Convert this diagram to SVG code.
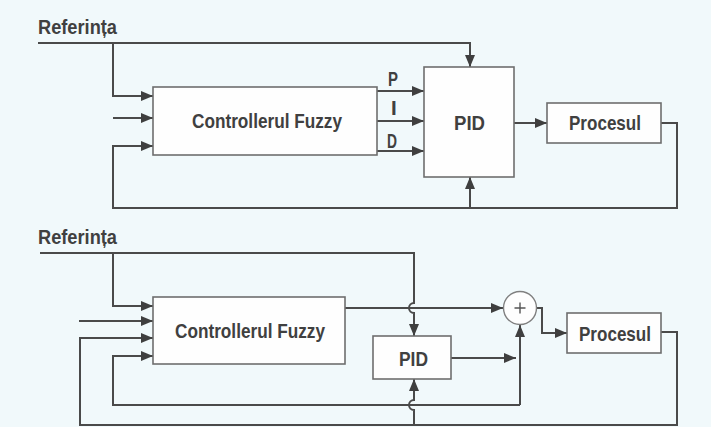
<svg xmlns="http://www.w3.org/2000/svg" width="711" height="427" viewBox="0 0 711 427">
<style>
.bg{fill:#f1f9fb}
.box{fill:#fefefe;stroke:#6e6e6e;stroke-width:1.6}
.ln{fill:none;stroke:#4a4a4a;stroke-width:2}
.t{font-family:"Liberation Sans",Arial,sans-serif;font-weight:bold;fill:#404040;font-size:20.5px}
.sum{fill:#fefefe;stroke:#808080;stroke-width:1.4}
</style>
<defs>
<marker id="ah" markerUnits="userSpaceOnUse" markerWidth="13" markerHeight="11" refX="12" refY="5" orient="auto">
<path d="M0,0 L12,5 L0,10 z" fill="#3f3f3f"/>
</marker>
</defs>
<rect class="bg" x="0" y="0" width="711" height="427"/>

<text class="t" x="38" y="34" textLength="79" lengthAdjust="spacingAndGlyphs">Referința</text>

<g id="connectors">
<path class="ln" d="M38,43 H470 V67" marker-end="url(#ah)"/>
<path class="ln" d="M113,43 V96 H153" marker-end="url(#ah)"/>
<path class="ln" d="M113,118 H153" marker-end="url(#ah)"/>
<path class="ln" d="M661,123 H677 V208 H113 V146 H153" marker-end="url(#ah)"/>
<path class="ln" d="M470,208 V177" marker-end="url(#ah)"/>
<path class="ln" d="M377,91 H424" marker-end="url(#ah)"/>
<path class="ln" d="M377,121 H424" marker-end="url(#ah)"/>
<path class="ln" d="M377,151 H424" marker-end="url(#ah)"/>
<path class="ln" d="M514,123 H547" marker-end="url(#ah)"/>
<path class="ln" d="M40,253 H414 V303 A5,5 0 0 0 414,313 V336" marker-end="url(#ah)"/>
<path class="ln" d="M113,253 V306 H153" marker-end="url(#ah)"/>
<path class="ln" d="M79,321 H153" marker-end="url(#ah)"/>
<path class="ln" d="M661,332 H677 V425 H80 V338 H153" marker-end="url(#ah)"/>
<path class="ln" d="M414,425 V410 A5,5 0 0 1 414,400 V379" marker-end="url(#ah)"/>
<path class="ln" d="M520,405 H113 V356 H153" marker-end="url(#ah)"/>
<path class="ln" d="M520,405 V325" marker-end="url(#ah)"/>
<path class="ln" d="M345,308 H503" marker-end="url(#ah)"/>
<path class="ln" d="M451,358 H516" marker-end="url(#ah)"/>
<path class="ln" d="M536,308 H542 V333 H567" marker-end="url(#ah)"/>
</g>

<text class="t" x="388" y="86" font-size="19" textLength="10" lengthAdjust="spacingAndGlyphs">P</text>
<text class="t" x="391" y="115" font-size="19">I</text>
<text class="t" x="387" y="148" font-size="19" textLength="10" lengthAdjust="spacingAndGlyphs">D</text>

<g id="fuzzy1">
<rect class="box" x="153" y="87" width="224" height="68"/>
<text class="t" x="192" y="128" textLength="150" lengthAdjust="spacingAndGlyphs">Controllerul Fuzzy</text>
</g>
<g id="pid1">
<rect class="box" x="424" y="67" width="90" height="110"/>
<text class="t" x="454" y="130" textLength="31" lengthAdjust="spacingAndGlyphs">PID</text>
</g>
<g id="proc1">
<rect class="box" x="547" y="103" width="114" height="40"/>
<text class="t" x="569" y="130" textLength="72" lengthAdjust="spacingAndGlyphs">Procesul</text>
</g>

<text class="t" x="38" y="244" textLength="79" lengthAdjust="spacingAndGlyphs">Referința</text>
<g id="fuzzy2">
<rect class="box" x="153" y="297" width="192" height="67"/>
<text class="t" x="175" y="338" textLength="150" lengthAdjust="spacingAndGlyphs">Controllerul Fuzzy</text>
</g>
<g id="pid2">
<rect class="box" x="373" y="336" width="78" height="43"/>
<text class="t" x="399" y="366" textLength="29" lengthAdjust="spacingAndGlyphs">PID</text>
</g>
<g id="sum">
<circle class="sum" cx="520" cy="308" r="16.5"/>
<path d="M514.5,308 H525.5 M520,302.5 V313.5" stroke="#555" stroke-width="1.4"/>
</g>
<g id="proc2">
<rect class="box" x="567" y="313" width="94" height="40"/>
<text class="t" x="579" y="341" textLength="72" lengthAdjust="spacingAndGlyphs">Procesul</text>
</g>
</svg>
